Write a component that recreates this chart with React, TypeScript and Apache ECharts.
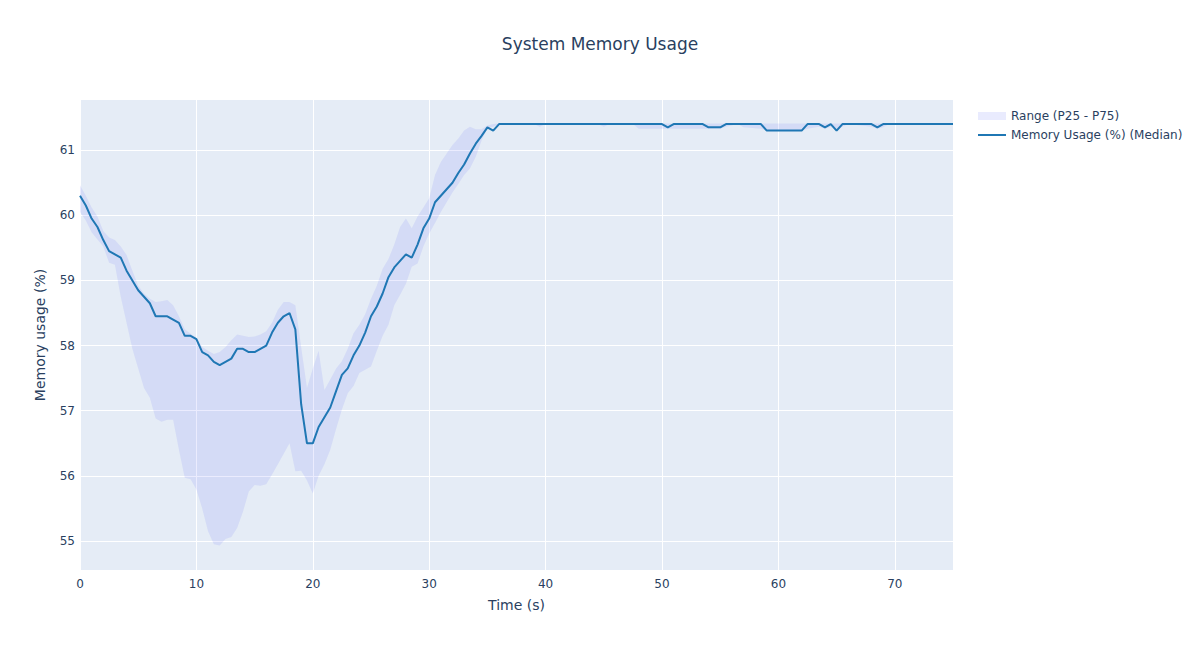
import React, { useEffect, useRef } from "react";
import * as echarts from "echarts";

const times = [
  0, 0.5, 1, 1.5, 2, 2.5, 3, 3.5, 4, 4.5, 5, 5.5, 6, 6.5, 7, 7.5, 8, 8.5, 9, 9.5,
  10, 10.5, 11, 11.5, 12, 12.5, 13, 13.5, 14, 14.5, 15, 15.5, 16, 16.5, 17, 17.5, 18, 18.5, 19, 19.5,
  20, 20.5, 21, 21.5, 22, 22.5, 23, 23.5, 24, 24.5, 25, 25.5, 26, 26.5, 27, 27.5, 28, 28.5, 29, 29.5,
  30, 30.5, 31, 31.5, 32, 32.5, 33, 33.5, 34, 34.5, 35, 35.5, 36,
  37, 39, 39.5, 40, 44.5, 45, 45.5, 47.5, 48, 50, 50.5, 51, 53.5, 54, 55, 55.5, 56.5, 57, 58.5,
  59, 62, 62.5, 63.5, 64, 64.5, 65, 65.5, 66, 68, 68.5, 69, 69.5, 75,
];

const median = [
  60.3, 60.15, 59.95, 59.82, 59.62, 59.45, 59.4, 59.35, 59.15, 59.0, 58.85, 58.75, 58.65, 58.45, 58.45, 58.45, 58.4, 58.35, 58.15, 58.15,
  58.1, 57.9, 57.85, 57.75, 57.7, 57.75, 57.8, 57.95, 57.95, 57.9, 57.9, 57.95, 58.0, 58.2, 58.35, 58.45, 58.5, 58.25, 57.1, 56.5,
  56.5, 56.75, 56.9, 57.05, 57.3, 57.55, 57.65, 57.85, 58.0, 58.2, 58.45, 58.6, 58.8, 59.05, 59.2, 59.3, 59.4, 59.35, 59.55, 59.8,
  59.95, 60.2, 60.3, 60.4, 60.5, 60.65, 60.78, 60.95, 61.1, 61.22, 61.35, 61.3, 61.4,
  61.4, 61.4, 61.4, 61.4, 61.4, 61.4, 61.4, 61.4, 61.4, 61.4, 61.35, 61.4, 61.4, 61.35, 61.35, 61.4, 61.4, 61.4, 61.4,
  61.3, 61.3, 61.4, 61.4, 61.35, 61.4, 61.3, 61.4, 61.4, 61.4, 61.35, 61.4, 61.4, 61.4,
];

const p75 = [
  60.46, 60.3, 60.12, 59.98, 59.76, 59.66, 59.62, 59.52, 59.39, 59.15, 58.92, 58.8, 58.72, 58.67, 58.68, 58.7, 58.62, 58.45, 58.25, 58.18,
  58.12, 57.98, 57.92, 57.87, 57.9, 57.98, 58.08, 58.17, 58.15, 58.13, 58.14, 58.17, 58.22, 58.35, 58.55, 58.67, 58.67, 58.62, 57.98, 57.35,
  57.65, 57.92, 57.32, 57.48, 57.65, 57.76, 57.95, 58.19, 58.32, 58.48, 58.72, 58.92, 59.18, 59.33, 59.55, 59.82, 59.95, 59.8, 59.98, 60.12,
  60.26, 60.62, 60.82, 60.95, 61.08, 61.18, 61.3, 61.36, 61.32, 61.32, 61.38, 61.4, 61.41,
  61.41, 61.41, 61.41, 61.41, 61.41, 61.41, 61.41, 61.41, 61.41, 61.41, 61.41, 61.41, 61.41, 61.41, 61.41, 61.41, 61.41, 61.41, 61.41,
  61.41, 61.41, 61.41, 61.41, 61.41, 61.41, 61.41, 61.41, 61.41, 61.41, 61.41, 61.41, 61.41, 61.41,
];

const p25 = [
  60.05, 59.92, 59.74, 59.63, 59.52, 59.27, 59.24, 58.75, 58.35, 57.95, 57.65, 57.35, 57.2, 56.88, 56.83, 56.86, 56.86, 56.4, 55.97, 55.95,
  55.79, 55.5, 55.15, 54.95, 54.93, 55.03, 55.06, 55.2, 55.45, 55.76, 55.86, 55.85, 55.87, 56.02, 56.18, 56.34, 56.5, 56.07, 56.08, 55.93,
  55.73, 56.0, 56.18, 56.4, 56.72, 57.02, 57.27, 57.38, 57.58, 57.63, 57.68, 57.92, 58.15, 58.32, 58.62, 58.78, 58.95, 59.21, 59.26, 59.52,
  59.72, 59.88, 60.05, 60.2, 60.35, 60.48, 60.62, 60.72, 60.9, 61.15, 61.34, 61.36, 61.4,
  61.4, 61.4, 61.36, 61.4, 61.4, 61.36, 61.4, 61.4, 61.33, 61.33, 61.33, 61.33, 61.33, 61.33, 61.33, 61.36, 61.4, 61.35, 61.33,
  61.3, 61.3, 61.33, 61.36, 61.33, 61.36, 61.3, 61.36, 61.4, 61.36, 61.33, 61.35, 61.4, 61.4,
];

const xTicks = [0, 10, 20, 30, 40, 50, 60, 70];
const yTicks = [55, 56, 57, 58, 59, 60, 61];

const FONT = "DejaVu Sans";
const TEXT = "#2a3f5f";
const BAND = "rgba(99,110,250,0.13)";

export default function App() {
  const ref = useRef<HTMLDivElement>(null);
  useEffect(() => {
    if (!ref.current) return;
    const chart = echarts.init(ref.current, null, { renderer: "svg" });
    const bandData = times.map((t, i) => [t, p25[i], p75[i]]);
    const medData = times.map((t, i) => [t, median[i]]);
    chart.setOption({
      animation: false,
      backgroundColor: "#ffffff",
      textStyle: { fontFamily: FONT, color: TEXT },
      title: {
        text: "System Memory Usage",
        left: "center",
        top: 30,
        textStyle: { fontFamily: FONT, fontSize: 17, fontWeight: "normal", color: TEXT },
      },
      legend: {
        orient: "vertical",
        left: 972,
        top: 105,
        itemWidth: 28,
        itemHeight: 8,
        itemGap: 7,
        textStyle: { fontFamily: FONT, fontSize: 12, color: TEXT },
        data: [
          { name: "Range (P25 - P75)", icon: "rect", itemStyle: { color: "rgba(99,110,250,0.14)" } },
          {
            name: "Memory Usage (%) (Median)",
            itemStyle: { color: "rgba(0,0,0,0)", opacity: 0, borderWidth: 0 },
          },
        ],
      },
      grid: {
        left: 80,
        right: 247,
        top: 100,
        bottom: 80,
        show: true,
        backgroundColor: "#E5ECF6",
        borderWidth: 0,
      },
      xAxis: {
        type: "value",
        min: 0,
        max: 75,
        name: "Time (s)",
        nameLocation: "middle",
        nameGap: 28,
        nameTextStyle: { fontFamily: FONT, fontSize: 14, color: TEXT },
        axisLine: { show: false },
        axisTick: { show: false, customValues: xTicks },
        axisLabel: { customValues: xTicks, fontFamily: FONT, fontSize: 12, color: TEXT, margin: 8 },
        splitLine: { show: true, lineStyle: { color: "#ffffff", width: 1 } },
      },
      yAxis: {
        type: "value",
        min: 54.555,
        max: 61.77,
        name: "Memory usage (%)",
        nameLocation: "middle",
        nameGap: 33,
        nameTextStyle: { fontFamily: FONT, fontSize: 14, color: TEXT },
        axisLine: { show: false },
        axisTick: { show: false, customValues: yTicks },
        axisLabel: { customValues: yTicks, fontFamily: FONT, fontSize: 12, color: TEXT, margin: 5 },
        splitLine: { show: true, lineStyle: { color: "#ffffff", width: 1 } },
      },
      series: [
        {
          name: "Range (P25 - P75)",
          type: "custom",
          data: bandData,
          encode: { x: 0, y: [1, 2] },
          clip: true,
          silent: true,
          itemStyle: { color: BAND },
          z: 2,
          renderItem: (params: any, api: any) => {
            if (params.dataIndex !== 0) return null;
            const pts: number[][] = [];
            for (let i = 0; i < bandData.length; i++) {
              pts.push(api.coord([bandData[i][0], bandData[i][2]]));
            }
            for (let i = bandData.length - 1; i >= 0; i--) {
              pts.push(api.coord([bandData[i][0], bandData[i][1]]));
            }
            return {
              type: "polygon",
              shape: { points: pts },
              style: { fill: BAND, stroke: "none" },
            };
          },
        },
        {
          name: "Memory Usage (%) (Median)",
          type: "line",
          data: medData,
          symbol: "none",
          showSymbol: false,
          lineStyle: { color: "#1f77b4", width: 2 },
          itemStyle: { color: "#1f77b4" },
          z: 3,
        },
      ],
    });
    return () => chart.dispose();
  }, []);
  return (
    <div
      ref={ref}
      style={{ position: "absolute", left: 0, top: 0, width: 1200, height: 650 }}
    />
  );
}
